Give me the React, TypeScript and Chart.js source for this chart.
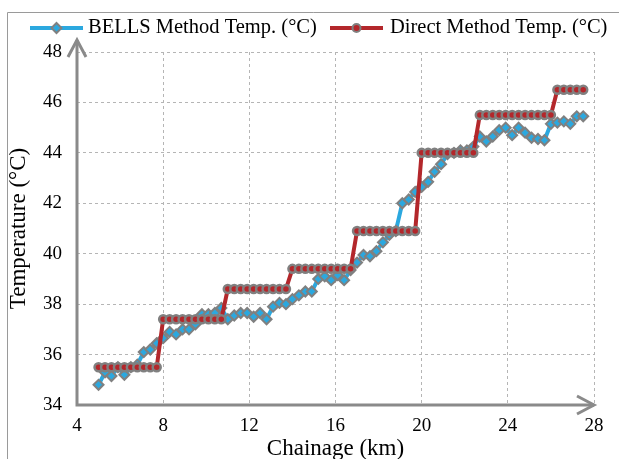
import React, { useEffect, useRef } from "react";
import { Chart, registerables } from "chart.js";

Chart.register(...registerables);

// ---- Data ----
const chainageKm = [
  5.0, 5.3, 5.6, 5.9, 6.2, 6.5, 6.8, 7.1, 7.4, 7.7,
  8.0, 8.3, 8.6, 8.9, 9.2, 9.5, 9.8, 10.1, 10.4, 10.7,
  11.0, 11.3, 11.6, 11.9, 12.2, 12.5, 12.8, 13.1, 13.4, 13.7,
  14.0, 14.3, 14.6, 14.9, 15.2, 15.5, 15.8, 16.1, 16.4, 16.7,
  17.0, 17.3, 17.6, 17.9, 18.2, 18.5, 18.8, 19.1, 19.4, 19.7,
  20.0, 20.3, 20.6, 20.9, 21.2, 21.5, 21.8, 22.1, 22.4, 22.7,
  23.0, 23.3, 23.6, 23.9, 24.2, 24.5, 24.8, 25.1, 25.4, 25.7,
  26.0, 26.3, 26.6, 26.9, 27.2, 27.5,
];

const bellsTemp = [
  34.8, 35.3, 35.15, 35.5, 35.2, 35.5, 35.6, 36.1, 36.2, 36.45,
  36.65, 36.9, 36.8, 37.0, 37.0, 37.2, 37.6, 37.6, 37.65, 37.85,
  37.4, 37.55, 37.65, 37.65, 37.5, 37.65, 37.4, 37.9, 38.05, 38.0,
  38.2, 38.35, 38.5, 38.5, 39.0, 39.1, 38.95, 39.15, 38.95, 39.35,
  39.65, 39.95, 39.9, 40.1, 40.45, 40.75, 40.9, 42.0, 42.15, 42.45,
  42.65, 42.85, 43.25, 43.55, 43.95, 44.0, 44.1, 44.1, 44.25, 44.65,
  44.45, 44.65, 44.9, 45.0, 44.7, 45.0, 44.8, 44.6, 44.55, 44.5,
  45.15, 45.2, 45.25, 45.15, 45.45, 45.45,
];

const directTemp = [
  35.5, 35.5, 35.5, 35.5, 35.5, 35.5, 35.5, 35.5, 35.5, 35.5,
  37.4, 37.4, 37.4, 37.4, 37.4, 37.4, 37.4, 37.4, 37.4, 37.4,
  38.6, 38.6, 38.6, 38.6, 38.6, 38.6, 38.6, 38.6, 38.6, 38.6,
  39.4, 39.4, 39.4, 39.4, 39.4, 39.4, 39.4, 39.4, 39.4, 39.4,
  40.9, 40.9, 40.9, 40.9, 40.9, 40.9, 40.9, 40.9, 40.9, 40.9,
  44.0, 44.0, 44.0, 44.0, 44.0, 44.0, 44.0, 44.0, 44.0, 45.5,
  45.5, 45.5, 45.5, 45.5, 45.5, 45.5, 45.5, 45.5, 45.5, 45.5,
  45.5, 46.5, 46.5, 46.5, 46.5, 46.5,
];

const seriesLabels = ["BELLS Method Temp. (°C)", "Direct Method Temp. (°C)"];
const xAxisTitle = "Chainage (km)";
const yAxisTitle = "Temperature (°C)";
const xMin = 4, xMax = 28, xStep = 4;
const yMin = 34, yMax = 48, yStep = 2;

// ---- Styles ----
const BLUE = "#2BA8DF";
const RED = "#B3272B";
const MARKER_GRAY = "#808080";
const AXIS_GRAY = "#8a8a8a";
const GRID_GRAY = "#b5b5b5";
const FONT = "'Liberation Serif', 'Times New Roman', serif";

const framePlugin = {
  id: "frame",
  beforeDraw(chart: any) {
    const ctx = chart.ctx;
    ctx.save();
    ctx.strokeStyle = "#9a9a9a";
    ctx.lineWidth = 1;
    ctx.beginPath();
    ctx.moveTo(7.5, chart.height);
    ctx.lineTo(7.5, 12.5);
    ctx.lineTo(chart.width, 12.5);
    ctx.stroke();
    ctx.restore();
  },
};

const axesPlugin = {
  id: "arrowAxes",
  beforeDatasetsDraw(chart: any) {
    const { left, right, top, bottom } = chart.chartArea;
    const ctx = chart.ctx;
    ctx.save();
    ctx.strokeStyle = AXIS_GRAY;
    ctx.lineWidth = 3;
    ctx.lineCap = "butt";
    ctx.lineJoin = "miter";
    ctx.beginPath();
    ctx.moveTo(left, top - 12);
    ctx.lineTo(left, bottom);
    ctx.lineTo(right, bottom);
    ctx.stroke();
    ctx.beginPath();
    ctx.moveTo(right - 17, bottom - 9);
    ctx.lineTo(right, bottom);
    ctx.lineTo(right - 17, bottom + 9);
    ctx.stroke();
    ctx.beginPath();
    ctx.moveTo(left - 9, top - 12 + 17);
    ctx.lineTo(left, top - 12);
    ctx.lineTo(left + 9, top - 12 + 17);
    ctx.stroke();
    ctx.restore();
  },
};

function drawMarker(ctx: CanvasRenderingContext2D, style: string, x: number, y: number, fill: string) {
  ctx.beginPath();
  if (style === "rectRot") {
    const r = 5;
    ctx.moveTo(x, y - r);
    ctx.lineTo(x + r, y);
    ctx.lineTo(x, y + r);
    ctx.lineTo(x - r, y);
    ctx.closePath();
  } else {
    ctx.arc(x, y, 4, 0, Math.PI * 2);
  }
  ctx.fillStyle = fill;
  ctx.fill();
  ctx.lineWidth = 2;
  ctx.strokeStyle = MARKER_GRAY;
  ctx.stroke();
}

const legendPlugin = {
  id: "lineLegend",
  afterDraw(chart: any) {
    const ctx = chart.ctx;
    const y = 28;
    const slots = [
      { x0: 30, x1: 83, tx: 88 },
      { x0: 330, x1: 383, tx: 390 },
    ];
    ctx.save();
    chart.data.datasets.forEach((ds: any, i: number) => {
      const s = slots[i];
      ctx.strokeStyle = ds.borderColor;
      ctx.lineWidth = 4;
      ctx.beginPath();
      ctx.moveTo(s.x0, y);
      ctx.lineTo(s.x1, y);
      ctx.stroke();
      drawMarker(ctx, ds.pointStyle, (s.x0 + s.x1) / 2, y, ds.pointBackgroundColor);
      ctx.fillStyle = "#000";
      ctx.font = `20.5px ${FONT}`;
      ctx.textBaseline = "middle";
      ctx.textAlign = "left";
      ctx.fillText(ds.label, s.tx, y);
    });
    ctx.restore();
  },
};

export default function App() {
  const canvasRef = useRef<HTMLCanvasElement | null>(null);

  useEffect(() => {
    if (!canvasRef.current) return;
    const bellsPoints = chainageKm.map((x, i) => ({ x, y: bellsTemp[i] }));
    const directPoints = chainageKm.map((x, i) => ({ x, y: directTemp[i] }));

    const chart = new Chart(canvasRef.current, {
      type: "line",
      data: {
        datasets: [
          {
            label: seriesLabels[0],
            data: bellsPoints,
            borderColor: BLUE,
            backgroundColor: BLUE,
            borderWidth: 4,
            pointStyle: "rectRot",
            pointRadius: 5,
            pointBorderWidth: 2,
            pointBorderColor: MARKER_GRAY,
            pointBackgroundColor: BLUE,
            tension: 0,
            order: 2,
          },
          {
            label: seriesLabels[1],
            data: directPoints,
            borderColor: RED,
            backgroundColor: RED,
            borderWidth: 4,
            pointStyle: "circle",
            pointRadius: 4,
            pointBorderWidth: 2.5,
            pointBorderColor: MARKER_GRAY,
            pointBackgroundColor: RED,
            tension: 0,
            order: 1,
          },
        ],
      },
      options: {
        animation: false,
        responsive: false,
        maintainAspectRatio: false,
        layout: { padding: { left: 0, top: 52, right: 25, bottom: 0 } },
        plugins: {
          legend: { display: false },
          tooltip: { enabled: false },
        },
        scales: {
          x: {
            type: "linear",
            min: xMin,
            max: xMax,
            ticks: {
              stepSize: xStep,
              color: "#000",
              font: { family: FONT, size: 19 },
              padding: 10,
            },
            grid: { color: GRID_GRAY, lineWidth: 1, drawTicks: false },
            border: { display: false, dash: [3, 3] },
            title: {
              display: true,
              text: xAxisTitle,
              color: "#000",
              font: { family: FONT, size: 23 },
              padding: { top: 0, bottom: -4 },
            },
            afterFit(scale: any) {
              scale.height = 54;
            },
          },
          y: {
            type: "linear",
            min: yMin,
            max: yMax,
            ticks: {
              stepSize: yStep,
              color: "#000",
              font: { family: FONT, size: 19 },
              padding: 15,
            },
            grid: { color: GRID_GRAY, lineWidth: 1, drawTicks: false },
            border: { display: false, dash: [3, 3] },
            title: {
              display: true,
              text: yAxisTitle,
              color: "#000",
              font: { family: FONT, size: 23 },
              padding: { top: 5, bottom: 0 },
            },
            afterFit(scale: any) {
              scale.width = 77;
            },
          },
        },
      },
      plugins: [framePlugin, axesPlugin, legendPlugin],
    });
    return () => chart.destroy();
  }, []);

  return (
    <div style={{ position: "absolute", left: 0, top: 0, width: 619, height: 459, background: "#fff" }}>
      <canvas ref={canvasRef} width={619} height={459} style={{ display: "block" }} />
    </div>
  );
}
